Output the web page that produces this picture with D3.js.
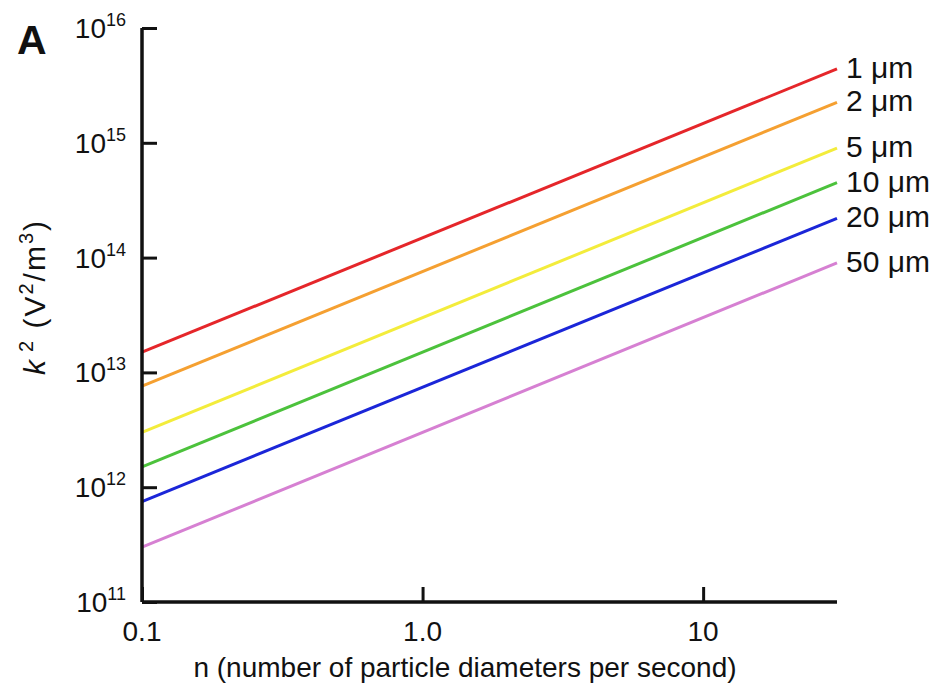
<!DOCTYPE html>
<html>
<head>
<meta charset="utf-8">
<script src="https://cdn.jsdelivr.net/npm/d3@7"></script>
<style>
  html, body { margin: 0; padding: 0; background: #fff; }
  svg { display: block; font-family: "Liberation Sans", Arial, sans-serif; }
</style>
</head>
<body>
<svg id="chart" width="940" height="688"></svg>
<script>
// Particle sizes and k^2 at both ends of the n range (V^2/m^3)
const sizes = ["1 \u03bcm", "2 \u03bcm", "5 \u03bcm", "10 \u03bcm", "20 \u03bcm", "50 \u03bcm"];
const nRange = [0.1, 30];
const kStart = [1.5e13, 7.6e12, 3.0e12, 1.5e12, 7.5e11, 3.0e11];
const kEnd = [4.4e15, 2.25e15, 9.0e14, 4.5e14, 2.2e14, 9.0e13];
const colors = ["#e5262a", "#f5a031", "#f3ec3b", "#4cc23c", "#1b26d8", "#d680d2"];

const xTicks = [0.1, 1, 10];
const xTickLabels = ["0.1", "1.0", "10"];
const yTicks = [1e11, 1e12, 1e13, 1e14, 1e15, 1e16];

const svg = d3.select("#chart");
const plotLeft = 142, plotRight = 837, plotTop = 28, plotBottom = 602;

const x = d3.scaleLog().domain(nRange).range([plotLeft, plotRight]);
const y = d3.scaleLog().domain([1e11, 1e16]).range([plotBottom, plotTop]);

// Lines, one per particle size, labelled at their right ends
const line = d3.line().x(d => x(d[0])).y(d => y(d[1]));
sizes.forEach((s, i) => {
  const pts = [[nRange[0], kStart[i]], [nRange[1], kEnd[i]]];
  svg.append("path")
    .attr("d", line(pts))
    .attr("fill", "none")
    .attr("stroke", colors[i])
    .attr("stroke-width", 3);
  svg.append("text")
    .attr("x", x(nRange[1]) + 9)
    .attr("y", y(kEnd[i]) + 9)
    .attr("font-size", 30)
    .attr("fill", "#111")
    .text(s);
});

// Axes with inward ticks
const xAxis = d3.axisBottom(x).tickValues(xTicks).tickSize(-15).tickFormat("");
const gx = svg.append("g").attr("transform", `translate(0,${plotBottom})`).call(xAxis);
const yAxis = d3.axisLeft(y).tickValues(yTicks).tickSize(-15).tickFormat("");
const gy = svg.append("g").attr("transform", `translate(${plotLeft},0)`).call(yAxis);
gx.select(".domain").attr("d", `M${plotLeft},0H${plotRight}`);
gy.select(".domain").attr("d", `M0,${plotBottom}V${plotTop}`);
[gx, gy].forEach(g => {
  g.select(".domain").attr("stroke", "#111").attr("stroke-width", 3.5);
  g.selectAll(".tick line").attr("stroke", "#111").attr("stroke-width", 3);
});

// X tick labels
svg.selectAll(".xlab").data(xTicks).join("text")
  .attr("class", "xlab")
  .attr("x", d => x(d))
  .attr("y", plotBottom + 39)
  .attr("text-anchor", "middle")
  .attr("font-size", 28)
  .attr("fill", "#111")
  .text((d, i) => xTickLabels[i]);

// Y tick labels as powers of ten
yTicks.forEach(v => {
  const t = svg.append("text")
    .attr("x", plotLeft - 16)
    .attr("y", y(v) + 10)
    .attr("text-anchor", "end")
    .attr("font-size", 28)
    .attr("fill", "#111");
  t.append("tspan").text("10");
  t.append("tspan").attr("font-size", 18).attr("dy", -12).text(Math.round(Math.log10(v)));
});

// Axis titles
svg.append("text")
  .attr("x", 465)
  .attr("y", 677)
  .attr("text-anchor", "middle")
  .attr("font-size", 28)
  .attr("fill", "#111")
  .text("n (number of particle diameters per second)");

const yt = svg.append("text")
  .attr("transform", "translate(45,297) rotate(-90)")
  .attr("text-anchor", "middle")
  .attr("font-size", 30)
  .attr("letter-spacing", 2)
  .attr("fill", "#111");
yt.append("tspan").attr("font-style", "italic").text("k");
yt.append("tspan").attr("font-size", 20).attr("dx", 6).attr("dy", -12).text("2");
yt.append("tspan").attr("dy", 12).text(" (V");
yt.append("tspan").attr("font-size", 20).attr("dy", -12).text("2");
yt.append("tspan").attr("dy", 12).text("/m");
yt.append("tspan").attr("font-size", 20).attr("dy", -12).text("3");
yt.append("tspan").attr("dy", 12).text(")");

// Panel letter
svg.append("text")
  .attr("x", 17)
  .attr("y", 54)
  .attr("font-size", 41)
  .attr("font-weight", "bold")
  .attr("fill", "#111")
  .text("A");
</script>
</body>
</html>
